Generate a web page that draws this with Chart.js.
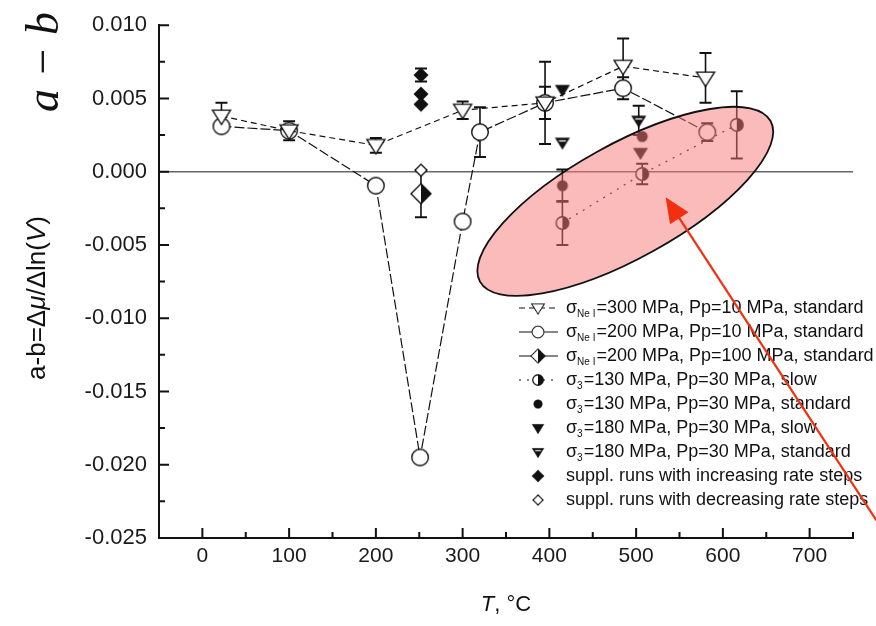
<!DOCTYPE html>
<html>
<head>
<meta charset="utf-8">
<script src="https://cdn.jsdelivr.net/npm/chart.js@4.4.0/dist/chart.umd.min.js"></script>
<style>
  body { margin: 0; background: #fff; }
  #wrap { width: 876px; height: 626px; }
</style>
</head>
<body>
<div id="wrap"><canvas id="ab-chart" width="876" height="626"></canvas></div>
<script>
// Temperature (deg C), a-b and error for each test series
var tempNe300 = [22, 100, 200, 300, 395, 485, 580];
var abNe300 = [0.0038, 0.0028, 0.0018, 0.0042, 0.0047, 0.0072, 0.0064];
var errNe300 = [0.0009, 0.00065, 0.0005, 0.0006, 0.0028, 0.0019, 0.0017];

var tempNe200 = [22, 100, 200, 251, 300, 320, 395, 485, 582];
var abNe200 = [0.0031, 0.0028, -0.00095, -0.0195, -0.0034, 0.0027, 0.0047, 0.0057, 0.0027];
var errNe200 = [0, 0, 0.0003, 0, 0, 0.0017, 0.0011, 0.00075, 0.0006];

var tempNe200Pp100 = [252];
var abNe200Pp100 = [-0.0015];
var errNe200Pp100 = [0.0016];

var temp130slow = [415, 507, 616];
var ab130slow = [-0.0035, -0.00016, 0.0032];
var err130slow = [0.0015, 0.0007, 0.0023];

var temp130std = [415, 507];
var ab130std = [-0.00095, 0.0024];
var err130std = [0.0011, 0];

var temp180slow = [415, 505];
var ab180slow = [0.0056, 0.0013];

var temp180std = [415, 503];
var ab180std = [0.0020, 0.0035];
var err180std = [0, 0.0010];

var tempIncr = [252, 252, 252];
var abIncr = [0.0066, 0.0053, 0.0046];
var errIncr = [0.00045, 0, 0];

var tempDecr = [252];
var abDecr = [0.0001];

// axis ticks
var xTickValues = [0, 100, 200, 300, 400, 500, 600, 700];
var yTickValues = [0.010, 0.005, 0.000, -0.005, -0.010, -0.015, -0.020, -0.025];

// legend text: sigma subscript + rest
var legendSubs = ['Ne I', 'Ne I', 'Ne I', '3', '3', '3', '3', '', ''];
var legendTexts = [
  '=300 MPa, Pp=10 MPa, standard',
  '=200 MPa, Pp=10 MPa, standard',
  '=200 MPa, Pp=100 MPa, standard',
  '=130 MPa, Pp=30 MPa, slow',
  '=130 MPa, Pp=30 MPa, standard',
  '=180 MPa, Pp=30 MPa, slow',
  '=180 MPa, Pp=30 MPa, standard',
  'suppl. runs with increasing rate steps',
  'suppl. runs with decreasing rate steps'
];

// highlighted region (ends of the long axis in data units) and the arrow pointing at it
var ellipseEnds = [[320, -0.0075], [655, 0.00346]];
var ellipseHalfWidth = 57;
var arrowFrom = [777, -0.0238];
var arrowTo = [534, -0.00174];

function pts(xs, ys) {
  return xs.map(function (x, i) { return { x: x, y: ys[i] }; });
}

// marker images
function marker(paint) {
  var c = document.createElement('canvas');
  c.width = 24; c.height = 24;
  var g = c.getContext('2d');
  g.translate(12, 12);
  g.lineWidth = 1.4; g.strokeStyle = '#111'; g.fillStyle = '#111';
  paint(g);
  return c;
}
function triDown(g, r) {
  g.beginPath();
  g.moveTo(-r, -0.65 * r); g.lineTo(r, -0.65 * r); g.lineTo(0, 0.95 * r);
  g.closePath();
}
function diamond(g, r) {
  g.beginPath();
  g.moveTo(0, -r); g.lineTo(r, 0); g.lineTo(0, r); g.lineTo(-r, 0);
  g.closePath();
}
var mOpenTri = marker(function (g) { triDown(g, 9); g.fillStyle = '#fff'; g.fill(); g.stroke(); });
var mOpenCircle = marker(function (g) {
  g.beginPath(); g.arc(0, 0, 8.3, 0, Math.PI * 2); g.fillStyle = '#fff'; g.fill(); g.stroke();
});
var mHalfDiamond = marker(function (g) {
  diamond(g, 10); g.fillStyle = '#fff'; g.fill(); g.stroke();
  g.beginPath(); g.moveTo(0, -10); g.lineTo(10, 0); g.lineTo(0, 10); g.closePath();
  g.fillStyle = '#111'; g.fill();
});
var mHalfCircle = marker(function (g) {
  g.beginPath(); g.arc(0, 0, 6.3, 0, Math.PI * 2); g.fillStyle = '#fff'; g.fill(); g.stroke();
  g.beginPath(); g.arc(0, 0, 6.3, -Math.PI / 2, Math.PI / 2); g.closePath();
  g.fillStyle = '#111'; g.fill();
});
var mDot = marker(function (g) { g.beginPath(); g.arc(0, 0, 5.5, 0, Math.PI * 2); g.fill(); });
var mFilledTri = marker(function (g) { triDown(g, 7.5); g.fill(); });
var mNotchTri = marker(function (g) {
  triDown(g, 7.5); g.fill();
  g.strokeStyle = '#fff'; g.lineWidth = 1.3;
  g.beginPath(); g.moveTo(-3.5, -1.5); g.lineTo(3.5, -1.5); g.stroke();
});
var mFilledDiamond = marker(function (g) { diamond(g, 7.5); g.fill(); });
var mOpenDiamond = marker(function (g) { diamond(g, 6); g.fillStyle = '#fff'; g.fill(); g.stroke(); });

var baseSet = { borderColor: '#111', backgroundColor: '#111', borderWidth: 1.2, pointRadius: 8, showLine: false };

var datasets = [
  { label: 'σNe I=300 MPa, Pp=10 MPa, standard', data: pts(tempNe300, abNe300), errorBars: errNe300,
    pointStyle: mOpenTri, showLine: true, borderDash: [6, 4] },
  { label: 'σNe I=200 MPa, Pp=10 MPa, standard', data: pts(tempNe200, abNe200), errorBars: errNe200,
    pointStyle: mOpenCircle, showLine: true, borderDash: [10, 3] },
  { label: 'σNe I=200 MPa, Pp=100 MPa, standard', data: pts(tempNe200Pp100, abNe200Pp100), errorBars: errNe200Pp100,
    pointStyle: mHalfDiamond, showLine: true },
  { label: 'σ3=130 MPa, Pp=30 MPa, slow', data: pts(temp130slow, ab130slow), errorBars: err130slow,
    pointStyle: mHalfCircle, showLine: true, borderDash: [2, 6] },
  { label: 'σ3=130 MPa, Pp=30 MPa, standard', data: pts(temp130std, ab130std), errorBars: err130std,
    pointStyle: mDot },
  { label: 'σ3=180 MPa, Pp=30 MPa, slow', data: pts(temp180slow, ab180slow), pointStyle: mFilledTri },
  { label: 'σ3=180 MPa, Pp=30 MPa, standard', data: pts(temp180std, ab180std), errorBars: err180std,
    pointStyle: mNotchTri },
  { label: 'suppl. runs with increasing rate steps', data: pts(tempIncr, abIncr), errorBars: errIncr,
    pointStyle: mFilledDiamond },
  { label: 'suppl. runs with decreasing rate steps', data: pts(tempDecr, abDecr), pointStyle: mOpenDiamond }
].map(function (d) { return Object.assign({}, baseSet, d); });

// vertical error bars with caps, under the markers
var errorBarPlugin = {
  id: 'errorBars',
  beforeDatasetsDraw: function (chart) {
    var ctx = chart.ctx, xs = chart.scales.x, ys = chart.scales.y;
    ctx.save();
    ctx.strokeStyle = '#111';
    chart.data.datasets.forEach(function (ds) {
      if (!ds.errorBars) return;
      ds.data.forEach(function (p, i) {
        var e = ds.errorBars[i];
        if (!e) return;
        var px = xs.getPixelForValue(p.x);
        var top = ys.getPixelForValue(p.y + e), bot = ys.getPixelForValue(p.y - e);
        ctx.lineWidth = 1.6;
        ctx.beginPath(); ctx.moveTo(px, top); ctx.lineTo(px, bot); ctx.stroke();
        ctx.lineWidth = 2;
        ctx.beginPath();
        ctx.moveTo(px - 6, top); ctx.lineTo(px + 6, top);
        ctx.moveTo(px - 6, bot); ctx.lineTo(px + 6, bot);
        ctx.stroke();
      });
    });
    ctx.restore();
  }
};

// inward major and minor tick marks
var innerTicksPlugin = {
  id: 'innerTicks',
  afterDraw: function (chart) {
    var ctx = chart.ctx, a = chart.chartArea, xs = chart.scales.x, ys = chart.scales.y;
    ctx.save();
    ctx.strokeStyle = '#111';
    ctx.lineWidth = 2;
    ctx.beginPath();
    xTickValues.forEach(function (v) {
      var px = xs.getPixelForValue(v);
      ctx.moveTo(px, a.bottom); ctx.lineTo(px, a.bottom - 10);
    });
    for (var v = xs.min; v <= xs.max; v += 50) {
      if (v % 100 === 0) continue;
      var px = xs.getPixelForValue(v);
      ctx.moveTo(px, a.bottom); ctx.lineTo(px, a.bottom - 6);
    }
    yTickValues.forEach(function (v, i) {
      var py = ys.getPixelForValue(v);
      ctx.moveTo(a.left, py); ctx.lineTo(a.left + 10, py);
      if (i > 0) {
        var pm = ys.getPixelForValue((v + yTickValues[i - 1]) / 2);
        ctx.moveTo(a.left, pm); ctx.lineTo(a.left + 6, pm);
      }
    });
    ctx.stroke();
    ctx.restore();
  }
};

function richText(ctx, parts, size, x, y) {
  var w = 0;
  parts.forEach(function (p) {
    ctx.font = (p[1] ? 'italic ' : '') + size + 'px "Liberation Sans", Arial, sans-serif';
    w += ctx.measureText(p[0]).width;
  });
  var cx = x - w / 2;
  parts.forEach(function (p) {
    ctx.font = (p[1] ? 'italic ' : '') + size + 'px "Liberation Sans", Arial, sans-serif';
    ctx.fillText(p[0], cx, y);
    cx += ctx.measureText(p[0]).width;
  });
}

// highlight ellipse, axis titles, legend and arrow
var overlayPlugin = {
  id: 'overlay',
  afterDraw: function (chart) {
    var ctx = chart.ctx, xs = chart.scales.x, ys = chart.scales.y, a = chart.chartArea;
    ctx.save();

    // shaded ellipse
    var x1 = xs.getPixelForValue(ellipseEnds[0][0]), y1 = ys.getPixelForValue(ellipseEnds[0][1]);
    var x2 = xs.getPixelForValue(ellipseEnds[1][0]), y2 = ys.getPixelForValue(ellipseEnds[1][1]);
    ctx.beginPath();
    ctx.ellipse((x1 + x2) / 2, (y1 + y2) / 2, Math.hypot(x2 - x1, y2 - y1) / 2, ellipseHalfWidth,
      Math.atan2(y2 - y1, x2 - x1), 0, Math.PI * 2);
    ctx.fillStyle = 'rgba(248, 120, 120, 0.5)';
    ctx.fill();
    ctx.strokeStyle = '#111';
    ctx.lineWidth = 1.8;
    ctx.stroke();

    // axis titles
    ctx.fillStyle = '#111';
    ctx.textBaseline = 'middle';
    richText(ctx, [['T', true], [', °C', false]], 22, (a.left + a.right) / 2, 605);
    ctx.save();
    ctx.translate(38, 298);
    ctx.rotate(-Math.PI / 2);
    richText(ctx, [['a-b=Δ', false], ['μ', true], ['/Δln(', false], ['V', true], [')', false]], 26, 0, 0);
    ctx.restore();
    ctx.save();
    ctx.translate(58, 62);
    ctx.rotate(-Math.PI / 2);
    ctx.textBaseline = 'alphabetic';
    ctx.textAlign = 'center';
    ctx.font = 'italic 46px "Liberation Serif", "Times New Roman", serif';
    ctx.fillText('a − b', 0, 0);
    ctx.restore();

    // legend
    chart.data.datasets.forEach(function (ds, i) {
      var ly = 308 + i * 24;
      if (ds.showLine) {
        ctx.save();
        ctx.strokeStyle = '#111';
        ctx.lineWidth = 1.2;
        ctx.setLineDash(i === 1 || i === 2 ? [] : ds.borderDash || []);
        ctx.beginPath(); ctx.moveTo(519, ly); ctx.lineTo(558, ly); ctx.stroke();
        ctx.restore();
      }
      var img = ds.pointStyle, s = i < 3 ? 17 : 20;
      ctx.drawImage(img, 538 - s / 2, ly - s / 2, s, s);
      var tx = 566;
      ctx.textBaseline = 'middle';
      ctx.textAlign = 'left';
      ctx.font = '18px "Liberation Sans", Arial, sans-serif';
      if (legendSubs[i]) {
        ctx.fillText('σ', tx, ly);
        tx += ctx.measureText('σ').width;
        ctx.font = '10px "Liberation Sans", Arial, sans-serif';
        ctx.fillText(legendSubs[i], tx, ly + 6);
        tx += ctx.measureText(legendSubs[i]).width + 1;
        ctx.font = '18px "Liberation Sans", Arial, sans-serif';
      }
      ctx.fillText(legendTexts[i], tx, ly);
    });

    // arrow
    var ax = xs.getPixelForValue(arrowFrom[0]), ay = ys.getPixelForValue(arrowFrom[1]);
    var bx = xs.getPixelForValue(arrowTo[0]), by = ys.getPixelForValue(arrowTo[1]);
    var ang = Math.atan2(by - ay, bx - ax);
    ctx.strokeStyle = '#f2300f';
    ctx.fillStyle = '#f2300f';
    ctx.lineWidth = 2.2;
    ctx.beginPath();
    ctx.moveTo(ax, ay);
    ctx.lineTo(bx - 20 * Math.cos(ang), by - 20 * Math.sin(ang));
    ctx.stroke();
    ctx.beginPath();
    ctx.moveTo(bx, by);
    ctx.lineTo(bx - 25 * Math.cos(ang) + 11 * Math.sin(ang), by - 25 * Math.sin(ang) - 11 * Math.cos(ang));
    ctx.lineTo(bx - 25 * Math.cos(ang) - 11 * Math.sin(ang), by - 25 * Math.sin(ang) + 11 * Math.cos(ang));
    ctx.closePath();
    ctx.fill();

    ctx.restore();
  }
};

var chart = new Chart(document.getElementById('ab-chart'), {
  type: 'scatter',
  data: { datasets: datasets },
  options: {
    responsive: false,
    animation: false,
    layout: { padding: { top: 21, right: 23, left: 0, bottom: 0 } },
    plugins: { legend: { display: false }, tooltip: { enabled: false } },
    scales: {
      x: {
        type: 'linear', min: -50, max: 750,
        afterBuildTicks: function (scale) { scale.ticks = xTickValues.map(function (v) { return { value: v }; }); },
        afterFit: function (scale) { scale.height = 88; },
        grid: { display: false, drawTicks: false },
        border: { display: true, color: '#111', width: 2 },
        ticks: { font: { family: '"Liberation Sans", Arial, sans-serif', size: 21 }, color: '#1a1a1a', padding: 6, maxRotation: 0 }
      },
      y: {
        type: 'linear', min: -0.025, max: 0.010,
        afterBuildTicks: function (scale) { scale.ticks = yTickValues.map(function (v) { return { value: v }; }); },
        afterFit: function (scale) { scale.width = 159; },
        grid: {
          drawTicks: false,
          lineWidth: 1.5,
          color: function (c) { return c.tick && c.tick.value === 0 ? '#666' : 'rgba(0,0,0,0)'; }
        },
        border: { display: true, color: '#111', width: 2 },
        ticks: {
          font: { family: '"Liberation Sans", Arial, sans-serif', size: 22 }, color: '#1a1a1a', padding: 12,
          callback: function (v) { return v.toFixed(3); }
        }
      }
    }
  },
  plugins: [errorBarPlugin, innerTicksPlugin, overlayPlugin]
});
</script>
</body>
</html>
